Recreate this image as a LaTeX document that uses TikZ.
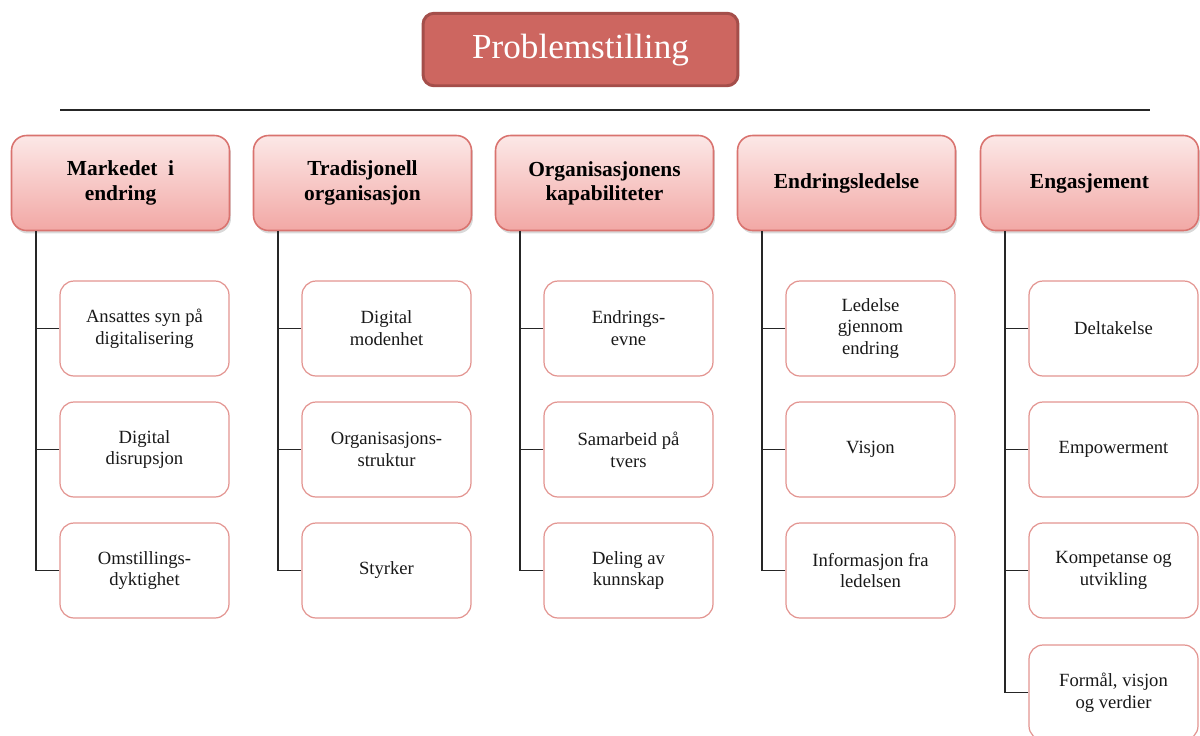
\documentclass[tikz,border=0pt]{standalone}
\usepackage{fontspec}
\setmainfont{Liberation Serif}
\usetikzlibrary{shadows,calc}
\definecolor{titlefill}{HTML}{CD6660}
\definecolor{titleborder}{HTML}{A44E4A}
\definecolor{headtop}{HTML}{FCE8E7}
\definecolor{headbot}{HTML}{F2A8A5}
\definecolor{headborder}{HTML}{D9736F}
\definecolor{childborder}{HTML}{E39591}
\definecolor{linec}{HTML}{262626}
\tikzset{
  titlebox/.style={draw=titleborder, line width=1.7pt, fill=titlefill, rounded corners=0.22cm,
    minimum width=6.3cm, minimum height=1.45cm, text=white, font=\fontsize{20}{24}\selectfont, inner sep=0pt},
  headbox/.style={draw=headborder, line width=0.9pt, top color=headtop, bottom color=headbot,
    rounded corners=0.3cm, minimum width=4.36cm, minimum height=1.9cm, align=center,
    font=\bfseries\fontsize{12.2}{13.8}\selectfont, inner sep=0pt,
    drop shadow={opacity=0.3, shadow xshift=0.03cm, shadow yshift=-0.06cm}},
  childbox/.style={draw=childborder, line width=0.7pt, fill=white, rounded corners=0.28cm,
    minimum width=3.38cm, minimum height=1.9cm, align=center, text=black!90,
    font=\fontsize{10.6}{12.4}\selectfont, inner sep=0pt},
  conn/.style={draw=linec, line width=0.95pt},
  rule/.style={draw=linec, line width=1pt}
}
\begin{document}
\begin{tikzpicture}[x=0.02cm, y=-0.02cm]
\useasboundingbox (0,0) rectangle (1200,735);
% title
\node[titlebox, text depth=0.12cm] (title) at (580.5,49.5) {Problemstilling};
\coordinate (ruleL) at (60,110);
\coordinate (ruleR) at (1150,110);
\draw[rule] (ruleL) -- (ruleR);
% headers
\node[headbox] (h1) at (120.5,183) {Markedet\ \ i\\endring};
\node[headbox] (h2) at (362.5,183) {Tradisjonell\\organisasjon};
\node[headbox] (h3) at (604.5,183) {Organisasjonens\\kapabiliteter};
\node[headbox] (h4) at (846.5,183) {Endringsledelse};
\node[headbox] (h5) at (1089.5,183) {Engasjement};
% children
\node[childbox] (c11) at (144.5,328.5) {Ansattes syn på\\digitalisering};
\node[childbox] (c12) at (144.5,449.5) {Digital\\disrupsjon};
\node[childbox] (c13) at (144.5,570.5) {Omstillings-\\dyktighet};
\node[childbox] (c21) at (386.5,328.5) {Digital\\modenhet};
\node[childbox] (c22) at (386.5,449.5) {Organisasjons-\\struktur};
\node[childbox] (c23) at (386.5,570.5) {Styrker};
\node[childbox] (c31) at (628.5,328.5) {Endrings-\\evne};
\node[childbox] (c32) at (628.5,449.5) {Samarbeid på\\tvers};
\node[childbox] (c33) at (628.5,570.5) {Deling av\\kunnskap};
\node[childbox] (c41) at (870.5,328.5) {Ledelse\\gjennom\\endring};
\node[childbox] (c42) at (870.5,449.5) {Visjon};
\node[childbox] (c43) at (870.5,570.5) {Informasjon fra\\ledelsen};
\node[childbox] (c51) at (1113.5,328.5) {Deltakelse};
\node[childbox] (c52) at (1113.5,449.5) {Empowerment};
\node[childbox] (c53) at (1113.5,570.5) {Kompetanse og\\utvikling};
\node[childbox] (c54) at (1113.5,692.5) {Formål, visjon\\og verdier};
% trunks
\foreach \h in {1,2,3,4,5}{
  \coordinate (t\h) at ($(h\h.south west)+(25,0)$);
}
\foreach \h/\last in {1/3,2/3,3/3,4/3,5/4}{
  \draw[conn] (t\h) |- (c\h\last.west);
  \foreach \k in {1,...,\last}{
    \draw[conn] (c\h\k.west) -- (c\h\k.west -| t\h);
  }
}
\end{tikzpicture}
\end{document}
